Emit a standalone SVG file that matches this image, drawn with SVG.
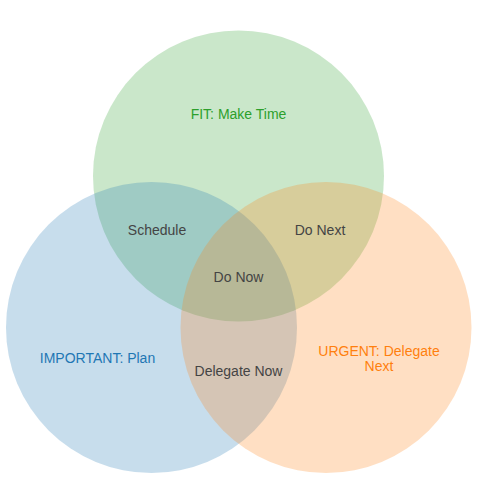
<svg xmlns="http://www.w3.org/2000/svg" width="500" height="500" viewBox="0 0 500 500">
<style>
  .set { fill-opacity: 0.25; stroke: none; }
  text { font-family: "Liberation Sans", Arial, sans-serif; font-size: 14px; text-anchor: middle; }
  .lbl { fill: #444444; }
</style>
<rect width="500" height="500" fill="#ffffff"/>
<g id="fit">
  <circle class="set" cx="238.5" cy="176" r="145.5" fill="#2ca02c"/>
</g>
<g id="important">
  <circle class="set" cx="151.5" cy="327.5" r="145.5" fill="#1f77b4"/>
</g>
<g id="urgent">
  <circle class="set" cx="326" cy="327.5" r="145.5" fill="#ff7f0e"/>
</g>
<g id="labels">
  <text x="238.5" y="119" fill="#2ca02c">FIT: Make Time</text>
  <text x="97.5" y="362.5" fill="#1f77b4">IMPORTANT: Plan</text>
  <text x="379" y="355.5" fill="#ff7f0e">URGENT: Delegate</text>
  <text x="379" y="370.5" fill="#ff7f0e">Next</text>
  <text class="lbl" x="157" y="235">Schedule</text>
  <text class="lbl" x="320" y="235">Do Next</text>
  <text class="lbl" x="238.5" y="282">Do Now</text>
  <text class="lbl" x="238.5" y="375.5">Delegate Now</text>
</g>
</svg>
